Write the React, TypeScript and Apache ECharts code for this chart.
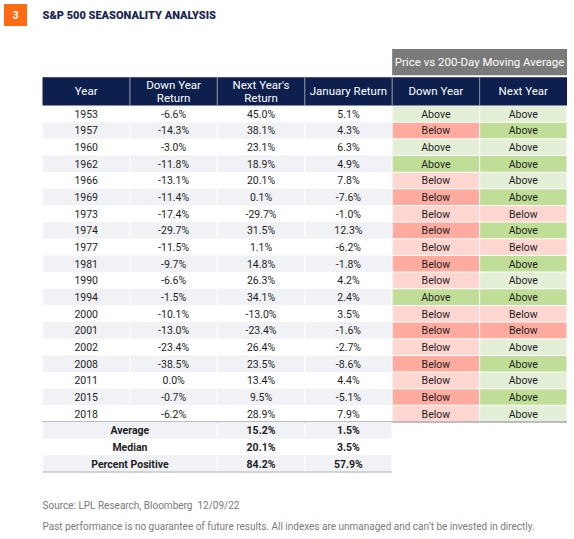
import React, { useEffect, useRef } from "react";
import * as echarts from "echarts";

const columns = ["Year", "Down Year\nReturn", "Next Year's\nReturn", "January Return", "Down Year", "Next Year"];
const superHeader = "Price vs 200-Day Moving Average";
const years = ["1953", "1957", "1960", "1962", "1966", "1969", "1973", "1974", "1977", "1981", "1990", "1994", "2000", "2001", "2002", "2008", "2011", "2015", "2018"];
const downYearReturn = [-6.6, -14.3, -3.0, -11.8, -13.1, -11.4, -17.4, -29.7, -11.5, -9.7, -6.6, -1.5, -10.1, -13.0, -23.4, -38.5, 0.0, -0.7, -6.2];
const nextYearReturn = [45.0, 38.1, 23.1, 18.9, 20.1, 0.1, -29.7, 31.5, 1.1, 14.8, 26.3, 34.1, -13.0, -23.4, 26.4, 23.5, 13.4, 9.5, 28.9];
const januaryReturn = [5.1, 4.3, 6.3, 4.9, 7.8, -7.6, -1.0, 12.3, -6.2, -1.8, 4.2, 2.4, 3.5, -1.6, -2.7, -8.6, 4.4, -5.1, 7.9];
const downYearVs200 = ["Above", "Below", "Above", "Above", "Below", "Below", "Below", "Below", "Below", "Below", "Below", "Above", "Below", "Below", "Below", "Below", "Below", "Below", "Below"];
const nextYearVs200 = ["Above", "Above", "Above", "Above", "Above", "Above", "Below", "Above", "Below", "Above", "Above", "Above", "Below", "Below", "Above", "Above", "Above", "Above", "Above"];
const summaryLabels = ["Average", "Median", "Percent Positive"];
const summaryNextYear = [15.2, 20.1, 84.2];
const summaryJanuary = [1.5, 3.5, 57.9];

const FONT = "Roboto, sans-serif";
const NAVY = "#0c1f4d";
const STRIPE = "#f1f2f5";
const GREEN_L = "#e3f0d7";
const GREEN_D = "#c0de97";
const RED_L = "#ffd6d0";
const RED_D = "#ffab9f";

const pct = (v: number) => v.toFixed(1) + "%";

type Cell = { col: number; row: number; span: number; text: string; kind: string; bold?: boolean };

const rowLabels: string[] = [...years, ...summaryLabels];
const bodyCells: Cell[] = [];
years.forEach((y, i) => {
  bodyCells.push({ col: 0, row: i, span: 1, text: y, kind: "plain" });
  bodyCells.push({ col: 1, row: i, span: 1, text: pct(downYearReturn[i]), kind: "plain" });
  bodyCells.push({ col: 2, row: i, span: 1, text: pct(nextYearReturn[i]), kind: "plain" });
  bodyCells.push({ col: 3, row: i, span: 1, text: pct(januaryReturn[i]), kind: "plain" });
  bodyCells.push({ col: 4, row: i, span: 1, text: downYearVs200[i], kind: downYearVs200[i] });
  bodyCells.push({ col: 5, row: i, span: 1, text: nextYearVs200[i], kind: nextYearVs200[i] });
});
summaryLabels.forEach((s, j) => {
  const r = years.length + j;
  bodyCells.push({ col: 0, row: r, span: 2, text: s, kind: "plain", bold: true });
  bodyCells.push({ col: 2, row: r, span: 1, text: pct(summaryNextYear[j]), kind: "plain", bold: true });
  bodyCells.push({ col: 3, row: r, span: 1, text: pct(summaryJanuary[j]), kind: "plain", bold: true });
});

const headerCells: Cell[] = [
  { col: 4, row: 0, span: 2, text: superHeader, kind: "super" },
  ...columns.map((c, i) => ({ col: i, row: 1, span: 1, text: c, kind: "head" })),
];

function textEl(x: number, y: number, text: string, fill: string, size: number, weight: string | number) {
  return {
    type: "text",
    style: {
      x,
      y,
      text,
      fill,
      font: `${weight} ${size}px ${FONT}`,
      textAlign: "center",
      textVerticalAlign: "middle",
      align: "center",
      verticalAlign: "middle",
      lineHeight: size + 1,
    },
  };
}

function bodyRender(params: any, api: any) {
  const cell = bodyCells[params.dataIndex];
  const c = api.coord([api.value(0), api.value(1)]);
  const s = api.size([1, 1]);
  const w = s[0] * cell.span;
  const h = s[1];
  const x0 = c[0] - s[0] / 2;
  const y0 = c[1] - h / 2;
  const dark = cell.row % 2 === 1;
  const children: any[] = [];
  let fill = dark ? STRIPE : "#ffffff";
  if (cell.kind === "Above") fill = dark ? GREEN_D : GREEN_L;
  if (cell.kind === "Below") fill = dark ? RED_D : RED_L;
  const colored = cell.kind === "Above" || cell.kind === "Below";
  children.push({
    type: "rect",
    shape: colored
      ? { x: x0 + 0.5, y: y0 + 0.5, width: w - 1, height: h - 1 }
      : { x: x0 + 0.5, y: y0, width: w - 1, height: h },
    style: { fill },
  });
  children.push(textEl(x0 + w / 2, c[1] + 0.5, cell.text, "#1e1e1e", 10.5, cell.bold ? "bold" : "normal"));
  if (cell.row === years.length - 1) {
    children.push({
      type: "line",
      shape: { x1: x0, y1: y0 + h, x2: x0 + w, y2: y0 + h },
      style: { stroke: "#a7a9b1", lineWidth: 1.3 },
    });
  }
  if (cell.row === rowLabels.length - 1) {
    children.push({
      type: "line",
      shape: { x1: x0, y1: y0 + h, x2: x0 + w, y2: y0 + h },
      style: { stroke: "#c5c7cf", lineWidth: 1.3 },
    });
  }
  return { type: "group", children };
}

function headerRender(params: any, api: any) {
  const cell = headerCells[params.dataIndex];
  const c = api.coord([api.value(0), api.value(1)]);
  const s = api.size([1, 1]);
  const w = s[0] * cell.span;
  const h = s[1];
  const x0 = c[0] - s[0] / 2;
  const y0 = c[1] - h / 2;
  const children: any[] = [];
  if (cell.kind === "super") {
    children.push({ type: "rect", shape: { x: x0, y: y0, width: w, height: h - 2 }, style: { fill: "#7a7a7a" } });
    children.push(textEl(x0 + w / 2, y0 + (h - 2) / 2, cell.text, "#ffffff", 11.5, "normal"));
  } else {
    children.push({ type: "rect", shape: { x: x0, y: y0, width: w, height: h }, style: { fill: NAVY } });
    if (cell.col > 0) {
      children.push({
        type: "line",
        shape: { x1: x0, y1: y0, x2: x0, y2: y0 + h },
        style: { stroke: "#7d87a0", lineWidth: 1.2 },
      });
    }
    children.push(textEl(x0 + w / 2, c[1], cell.text, "#ffffff", 11.5, "normal"));
  }
  return { type: "group", children };
}

export default function App() {
  const ref = useRef<HTMLDivElement>(null);
  useEffect(() => {
    if (!ref.current) return;
    const chart = echarts.init(ref.current, undefined, { renderer: "svg" });
    const option: any = {
      animation: false,
      backgroundColor: "#ffffff",
      grid: [
        { left: 42.5, right: 7, top: 105.5, bottom: 67 },
        { left: 42.5, right: 7, top: 49, height: 56.5 },
      ],
      xAxis: [
        { type: "category", data: columns, gridIndex: 0, show: false },
        { type: "category", data: columns, gridIndex: 1, show: false },
      ],
      yAxis: [
        { type: "category", data: rowLabels, gridIndex: 0, inverse: true, show: false },
        { type: "category", data: ["super", "main"], gridIndex: 1, inverse: true, show: false },
      ],
      series: [
        {
          type: "custom",
          xAxisIndex: 0,
          yAxisIndex: 0,
          renderItem: bodyRender,
          data: bodyCells.map((c) => [c.col, c.row]),
          silent: true,
        },
        {
          type: "custom",
          xAxisIndex: 1,
          yAxisIndex: 1,
          renderItem: headerRender,
          data: headerCells.map((c) => [c.col, c.row]),
          silent: true,
        },
      ],
      graphic: [
        { type: "rect", shape: { x: 4, y: 4, width: 23, height: 22 }, style: { fill: "#ff6b14" } },
        {
          type: "text",
          style: { x: 15.5, y: 15.5, text: "3", fill: "#ffffff", font: `bold 10px Roboto, sans-serif`, textAlign: "center", textVerticalAlign: "middle" },
        },
        {
          type: "text",
          style: { x: 42.5, y: 15.5, text: "S&P 500 SEASONALITY ANALYSIS", fill: "#1b2552", font: `900 11px Roboto, sans-serif`, textAlign: "left", textVerticalAlign: "middle" },
        },
        {
          type: "text",
          style: { x: 42.5, y: 505, text: "Source: LPL Research, Bloomberg  12/09/22", fill: "#7a7a7a", font: `normal 10px ${FONT}`, textAlign: "left", textVerticalAlign: "middle" },
        },
        {
          type: "text",
          style: { x: 42.5, y: 526, text: "Past performance is no guarantee of future results. All indexes are unmanaged and can\u2019t be invested in directly.", fill: "#7a7a7a", font: `normal 10px ${FONT}`, textAlign: "left", textVerticalAlign: "middle" },
        },
      ],
    };
    chart.setOption(option);
    return () => chart.dispose();
  }, []);
  return <div ref={ref} style={{ position: "fixed", left: 0, top: 0, width: 574, height: 539 }} />;
}
